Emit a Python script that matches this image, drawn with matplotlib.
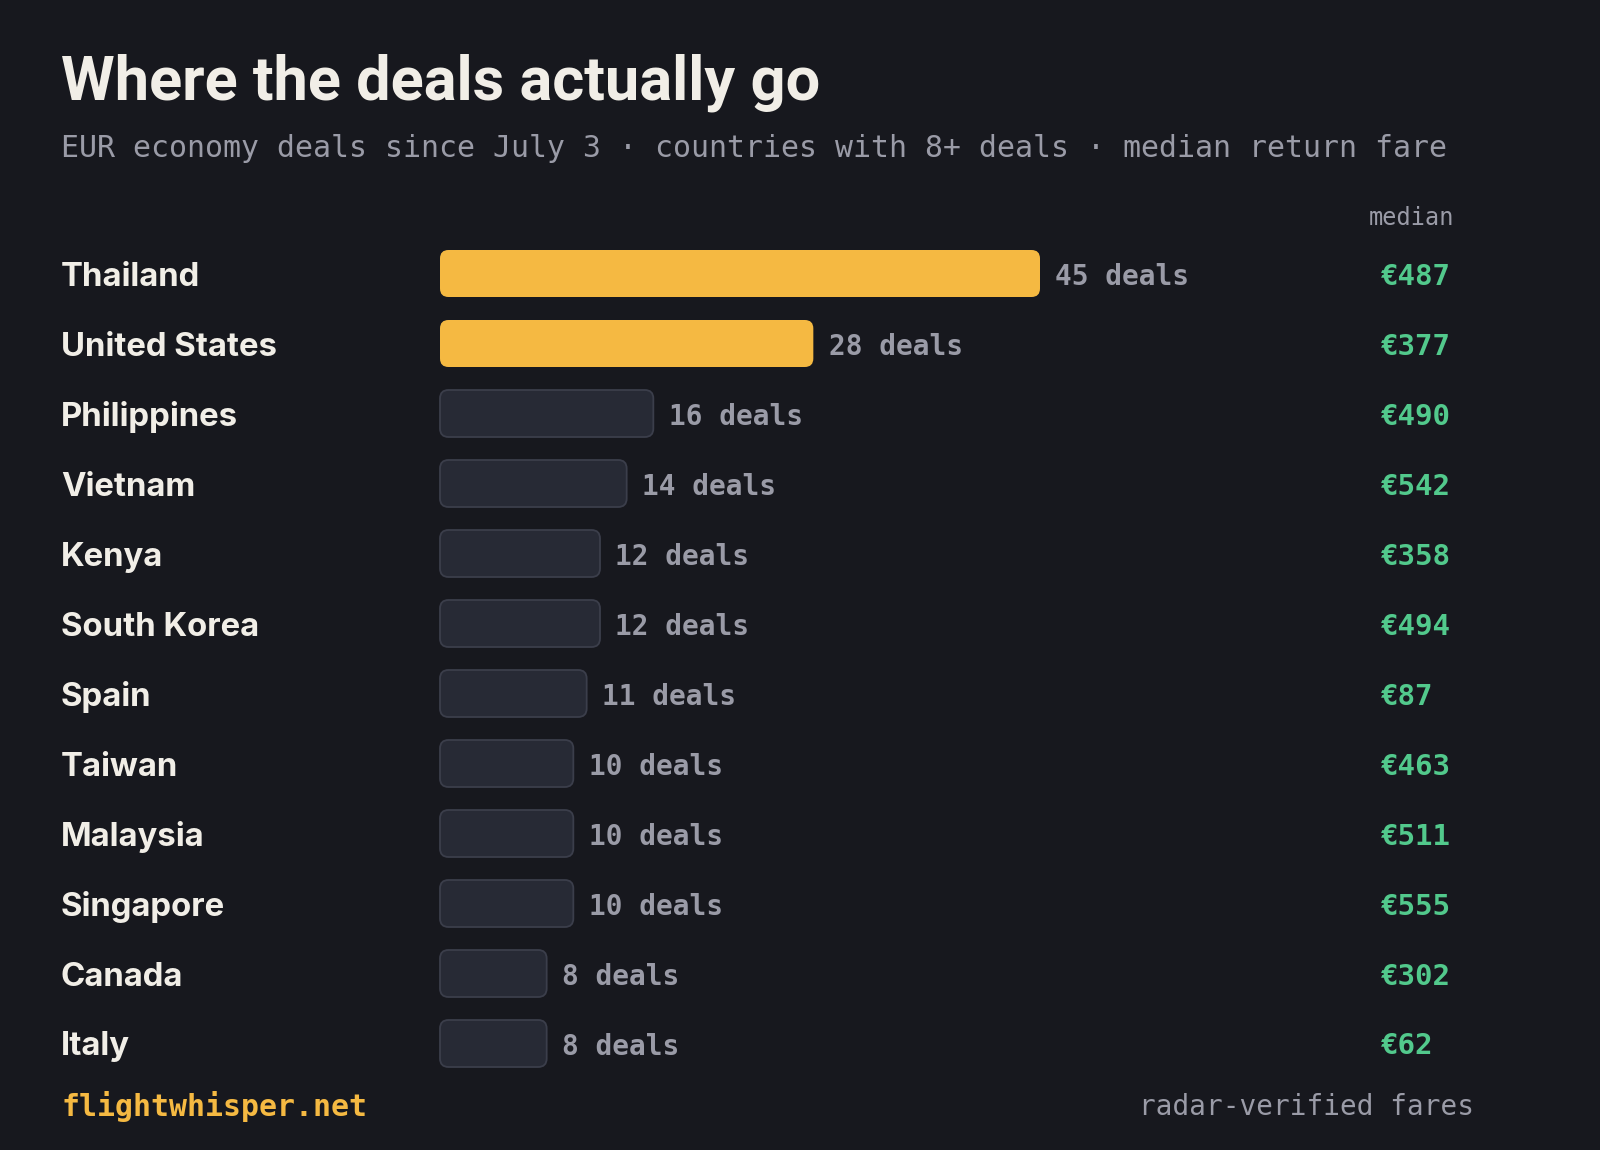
import matplotlib
matplotlib.use("Agg")
import matplotlib.pyplot as plt
from matplotlib.patches import FancyBboxPatch
from matplotlib.transforms import blended_transform_factory

countries = ["Thailand", "United States", "Philippines", "Vietnam", "Kenya", "South Korea",
             "Spain", "Taiwan", "Malaysia", "Singapore", "Canada", "Italy"]
deals = [45, 28, 16, 14, 12, 12, 11, 10, 10, 10, 8, 8]
medians = [487, 377, 490, 542, 358, 494, 87, 463, 511, 555, 302, 62]
highlight_top = 2

title = "Where the deals actually go"
subtitle = "EUR economy deals since July 3 \u00b7 countries with 8+ deals \u00b7 median return fare"
footer_left = "flightwhisper.net"
footer_right = "radar-verified fares"

BG = "#17181e"
YELLOW = "#f5b942"
DARK_FILL = "#272a35"
DARK_EDGE = "#3b3e4b"
CREAM = "#f1eee7"
GRAY = "#9a9ba7"
GREEN = "#52c98c"
MONO = ["DejaVu Sans Mono"]
SANS = ["Inter", "DejaVu Sans"]
TITLE_FONT = ["Roboto", "DejaVu Sans"]

W, H = 1600, 1150
fig = plt.figure(figsize=(W / 100, H / 100), dpi=100, facecolor=BG)

n = len(countries)
pitch = 70
row0 = 273.5
ax_left = 440
ax_width = 600
xmax = max(deals)
top_px = row0 - pitch / 2
ax = fig.add_axes([ax_left / W, 1 - (top_px + n * pitch) / H, ax_width / W, n * pitch / H])
ax.set_xlim(0, xmax)
ax.set_ylim(n - 0.5, -0.5)
ax.axis("off")
ax.set_facecolor(BG)

px_per_x = ax_width / xmax
radius_px = 8.5
rs = radius_px / px_per_x
aspect = (radius_px / pitch) / rs
bar_h = 47 / pitch

for i, (c, d, m) in enumerate(zip(countries, deals, medians)):
    hl = i < highlight_top
    patch = FancyBboxPatch((0, i - bar_h / 2), d, bar_h,
                           boxstyle=f"round,pad=0,rounding_size={rs}",
                           mutation_aspect=aspect,
                           facecolor=YELLOW if hl else DARK_FILL,
                           edgecolor=YELLOW if hl else DARK_EDGE,
                           linewidth=0 if hl else 1.3, clip_on=False)
    ax.add_patch(patch)
    ax.annotate(f"{d} deals", xy=(d, i), xytext=(11, -0.7), textcoords="offset points",
                ha="left", va="center_baseline", fontsize=20, fontweight="bold", color=GRAY,
                family=MONO, annotation_clip=False)

tr = blended_transform_factory(fig.transFigure, ax.transData)
for i, (c, m) in enumerate(zip(countries, medians)):
    fig.text(61 / W, i, c, transform=tr, ha="left", va="center_baseline", fontsize=23.7,
             fontweight="bold", color=CREAM, family=SANS)
    fig.text(1381 / W, i, f"\u20ac{m}", transform=tr, ha="left", va="center_baseline",
             fontsize=21, fontweight="bold", color=GREEN, family=MONO)

fig.text(1454 / W, 1 - 218 / H, "median", ha="right", va="center", fontsize=17,
         color=GRAY, family=MONO)

fig.text(61 / W, 1 - 100 / H, title, ha="left", va="baseline", fontsize=44.2,
         fontweight="bold", color=CREAM, family=TITLE_FONT)
fig.text(61 / W, 1 - 148 / H, subtitle, ha="left", va="center", fontsize=21.5,
         color=GRAY, family=MONO)
fig.text(61 / W, 1 - 1107 / H, footer_left, ha="left", va="center", fontsize=21.5,
         fontweight="bold", color=YELLOW, family=MONO)
fig.text(1474 / W, 1 - 1107 / H, footer_right, ha="right", va="center", fontsize=20,
         color=GRAY, family=MONO)

fig.savefig("out.png", dpi=100, facecolor=BG)
